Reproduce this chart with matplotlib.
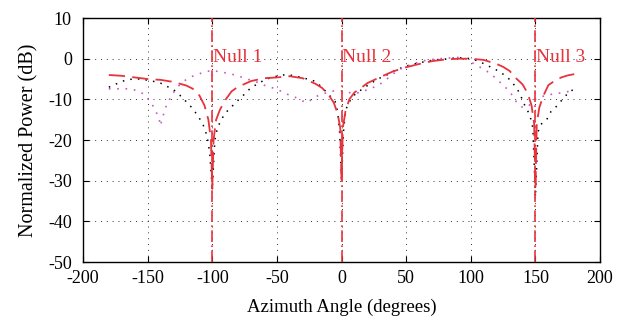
import matplotlib
matplotlib.use("Agg")
import matplotlib.pyplot as plt

plt.rcParams['font.family'] = ['Liberation Serif', 'DejaVu Serif']
plt.rcParams['axes.unicode_minus'] = False

# Dashed red series
x_dash = [-180, -170, -160, -150, -140, -130, -120, -115, -110, -106, -103, -101, -100, -99, -97, -94, -90, -85,
          -80, -70, -60, -50, -40, -30, -20, -15, -10, -6, -3, -1, 0, 1, 3, 6, 10, 15, 20, 30, 40, 50, 60, 70,
          80, 90, 100, 110, 120, 125, 130, 135, 140, 144, 147, 149, 150, 151, 153, 156, 160, 165, 170, 175, 180]
y_dash = [-4.0, -4.2, -4.6, -5.0, -5.2, -5.7, -6.6, -7.4, -9.0, -11.5, -15, -20, -32, -20, -15, -12.5, -10.2, -8.0,
          -6.9, -5.5, -4.8, -4.6, -4.3, -4.8, -6.2, -7.2, -8.9, -10.8, -13.5, -17, -30, -17, -13, -10, -8.3, -7.2,
          -6.0, -4.5, -3.1, -2.1, -1.3, -0.6, -0.2, 0.0, 0.0, -0.3, -1.3, -2.0, -3.0, -4.8, -6.3, -8.5, -11.5,
          -16, -32, -16, -12, -9.2, -6.5, -5.4, -4.6, -4.1, -3.8]

# Black dotted series
x_black = [-180, -175, -170, -165, -160, -155, -150, -145, -140, -135, -130, -125, -120, -115, -110, -107, -104,
           -102, -100, -98, -96, -93, -90, -85, -80, -75, -70, -65, -60, -55, -50, -45, -40, -35, -30, -25, -20,
           -15, -10, -5, -3, -1.5, 0, 1.5, 3, 5, 10, 15, 20, 25, 30, 35, 40, 45, 50, 55, 60, 65, 70, 75, 80, 85,
           90, 95, 100, 105, 110, 115, 120, 125, 130, 135, 138, 141, 144, 146, 148, 150, 152, 154, 156, 159, 162,
           165, 168, 171, 175, 180]
y_black = [-7.0, -6.3, -5.6, -5.1, -5.0, -5.0, -5.3, -5.6, -6.0, -6.8, -7.6, -9.0, -10.6, -12.3, -14.6, -16.3,
           -19, -23, -32, -20, -17, -15, -13.4, -11.8, -10.2, -8.7, -7.1, -6.2, -5.3, -4.7, -4.3, -4.0, -4.0,
           -4.3, -4.7, -5.1, -5.6, -7.1, -8.8, -10.5, -13, -18, -30, -18, -13, -11, -8.9, -7.7, -6.6, -5.6, -4.7,
           -4.0, -3.1, -2.4, -1.8, -1.4, -1.0, -0.7, -0.4, -0.2, -0.1, 0.1, 0.2, 0.2, 0.0, -0.5, -1.2, -2.0, -2.8,
           -3.8, -5.1, -7.0, -8.6, -11, -12.8, -14.3, -17, -34, -18, -16.3, -15.5, -14.8, -13, -12.2, -11, -10,
           -8.5, -7.4]

# Magenta dotted series
x_mag = [-180, -175, -170, -165, -160, -155, -151, -148, -145, -143, -141, -140, -139, -137, -135, -133, -131,
         -128, -124, -120, -116, -111, -106, -101, -96, -91, -85, -80, -75, -70, -65, -60, -55, -50, -45, -40,
         -35, -30, -27, -24, -20, -15, -10, -5, 0, 5, 10, 15, 20, 25, 30, 35, 40, 45, 50, 55, 60, 65, 70, 75,
         80, 85, 90, 95, 100, 105, 110, 115, 120, 125, 130, 135, 139, 143, 147, 150, 155, 160, 165, 170, 175, 180]
y_mag = [-7.4, -7.4, -7.4, -7.4, -7.7, -8.3, -9.2, -10.6, -12.0, -13.4, -15.0, -16.5, -15.0, -13.0, -11.0,
         -10.0, -8.8, -7.4, -6.0, -5.1, -4.4, -3.8, -3.3, -2.9, -3.1, -3.4, -3.8, -4.2, -4.8, -5.3, -5.8, -6.5,
         -7.0, -7.5, -8.3, -9.0, -9.6, -10.4, -10.8, -10.2, -9.3, -8.8, -8.1, -7.9, -7.9, -8.3, -8.5, -8.3, -7.6,
         -7.0, -6.2, -5.0, -3.7, -2.6, -2.0, -1.3, -0.8, -0.4, -0.2, 0.0, 0.1, 0.2, 0.3, 0.2, -0.8, -1.7, -2.6,
         -3.6, -5.0, -6.5, -8.0, -10.5, -11.8, -12.0, -11.0, -10.0, -9.3, -8.9, -8.6, -8.4, -8.1, -7.5]

null_angles = [-100, 0, 150]
null_labels = ["Null 1", "Null 2", "Null 3"]

xticks = [-200, -150, -100, -50, 0, 50, 100, 150, 200]
yticks = [-50, -40, -30, -20, -10, 0, 10]

fig = plt.figure(figsize=(6.31, 3.22), dpi=100)
ax = fig.add_axes([0.1315, 0.186, 0.8195, 0.758])

red = '#e8323c'
ax.plot(x_black, y_black, color='black', linestyle=(0, (1, 4)), linewidth=1.1, zorder=3)
ax.plot(x_mag, y_mag, color='#c857c8', linestyle=(0, (1, 4)), linewidth=1.2, zorder=3)
ax.plot(x_dash, y_dash, color=red, linestyle=(0, (9, 4)), linewidth=1.3, zorder=4)

for xa, lab in zip(null_angles, null_labels):
    ax.axvline(xa, color=red, linestyle=(0, (7, 2, 1, 2)), linewidth=1.2, zorder=5)
    ax.text(xa + 0.5, 0.3, lab, color=red, fontsize=14, ha='left', va='center', zorder=6)

ax.set_xlim(-200, 200)
ax.set_ylim(-50, 10)
ax.set_xticks(xticks)
ax.set_yticks(yticks)
ax.tick_params(direction='in', top=True, right=True, labelsize=13, length=4, width=0.8)
ax.tick_params(axis='x', pad=6)
ax.tick_params(axis='y', pad=8)
ax.grid(True, color='black', linestyle=(0, (1, 5)), linewidth=0.7, alpha=0.8)
for s in ax.spines.values():
    s.set_linewidth(1.0)

ax.set_xlabel('Azimuth Angle (degrees)', fontsize=13.5, labelpad=8)
ax.set_ylabel('Normalized Power (dB)', fontsize=14.5, labelpad=7)

fig.savefig('out.png', dpi=100)
